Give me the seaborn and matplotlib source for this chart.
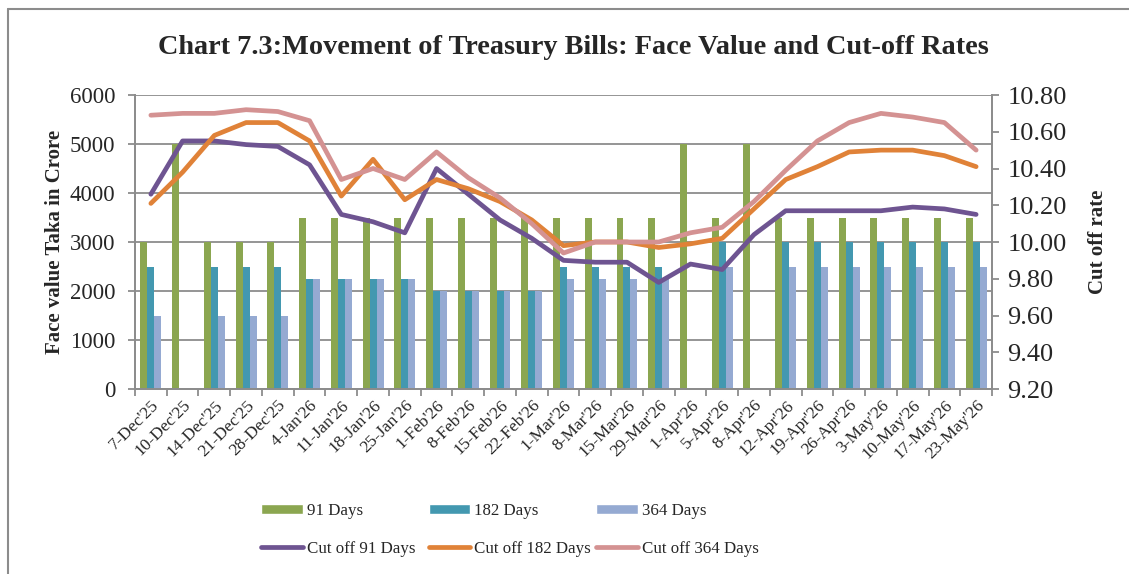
import numpy as np
import pandas as pd
import matplotlib
matplotlib.use("Agg")
import matplotlib.pyplot as plt
from matplotlib.lines import Line2D
from matplotlib.patches import Patch
import seaborn as sns

# Auction dates
dates = [
    "7-Dec'25", "10-Dec'25", "14-Dec'25", "21-Dec'25", "28-Dec'25", "4-Jan'26",
    "11-Jan'26", "18-Jan'26", "25-Jan'26", "1-Feb'26", "8-Feb'26", "15-Feb'26",
    "22-Feb'26", "1-Mar'26", "8-Mar'26", "15-Mar'26", "29-Mar'26", "1-Apr'26",
    "5-Apr'26", "8-Apr'26", "12-Apr'26", "19-Apr'26", "26-Apr'26", "3-May'26",
    "10-May'26", "17-May'26", "23-May'26",
]

# Face value (Taka in crore)
fv_91 = [3000, 5000, 3000, 3000, 3000, 3500, 3500, 3500, 3500, 3500, 3500, 3500,
         3500, 3500, 3500, 3500, 3500, 5000, 3500, 5000, 3500, 3500, 3500, 3500,
         3500, 3500, 3500]
fv_182 = [2500, 0, 2500, 2500, 2500, 2250, 2250, 2250, 2250, 2000, 2000, 2000,
          2000, 2500, 2500, 2500, 2500, 0, 3000, 0, 3000, 3000, 3000, 3000,
          3000, 3000, 3000]
fv_364 = [1500, 0, 1500, 1500, 1500, 2250, 2250, 2250, 2250, 2000, 2000, 2000,
          2000, 2250, 2250, 2250, 2250, 0, 2500, 0, 2500, 2500, 2500, 2500,
          2500, 2500, 2500]

# Cut-off rates (%)
co_91 = [10.26, 10.55, 10.55, 10.53, 10.52, 10.42, 10.15, 10.11, 10.05, 10.40,
         10.26, 10.12, 10.02, 9.90, 9.89, 9.89, 9.78, 9.88, 9.85, 10.04, 10.17,
         10.17, 10.17, 10.17, 10.19, 10.18, 10.15]
co_182 = [10.21, 10.38, 10.58, 10.65, 10.65, 10.55, 10.25, 10.45, 10.23, 10.34,
          10.29, 10.22, 10.12, 9.98, 10.00, 10.00, 9.97, 9.99, 10.02, 10.18,
          10.34, 10.41, 10.49, 10.50, 10.50, 10.47, 10.41]
co_364 = [10.69, 10.70, 10.70, 10.72, 10.71, 10.66, 10.34, 10.40, 10.34, 10.49,
          10.35, 10.24, 10.10, 9.94, 10.00, 10.00, 10.00, 10.05, 10.08, 10.22,
          10.39, 10.55, 10.65, 10.70, 10.68, 10.65, 10.50]

bar_labels = ["91 Days", "182 Days", "364 Days"]
line_labels = ["Cut off 91 Days", "Cut off 182 Days", "Cut off 364 Days"]
bar_colors = ["#8BA650", "#4398B0", "#95AAD2"]
line_colors = ["#6E5491", "#E08238", "#D49292"]

bars = pd.DataFrame({"date": dates, "91 Days": fv_91, "182 Days": fv_182,
                     "364 Days": fv_364})
bars = bars.melt(id_vars="date", var_name="tenor", value_name="value")
rates = pd.DataFrame({"date": dates, "Cut off 91 Days": co_91,
                      "Cut off 182 Days": co_182, "Cut off 364 Days": co_364})
rates = rates.melt(id_vars="date", var_name="tenor", value_name="rate")

sns.set_style("white")
plt.rcParams["font.family"] = ["Liberation Serif", "DejaVu Serif"]
grey = "#8C8C8C"

fig = plt.figure(figsize=(11.29, 5.74), dpi=100)
ax = fig.add_axes([135 / 1129, 1 - 389 / 574, 857 / 1129, 294 / 574])

sns.barplot(data=bars, x="date", y="value", hue="tenor", order=dates,
            hue_order=bar_labels, palette=bar_colors, width=0.66,
            linewidth=0, saturation=1, legend=False, ax=ax)
ax.set_ylim(0, 6000)
ax.set_yticks(range(0, 6001, 1000))
ax.set_xlim(-0.5, len(dates) - 0.5)
ax.set_axisbelow(True)
ax.yaxis.grid(True, color=grey, linewidth=1.3)
ax.set_xlabel("")
ax.set_ylabel("")

ax2 = ax.twinx()
sns.lineplot(data=rates, x="date", y="rate", hue="tenor",
             hue_order=line_labels, palette=line_colors, linewidth=3.4,
             sort=False, legend=False, ax=ax2)
for ln in ax2.lines:
    ln.set_solid_capstyle("round")
    ln.set_solid_joinstyle("round")
ax2.set_ylim(9.2, 10.8)
ax2.set_yticks(np.arange(9.2, 10.81, 0.2))
ax2.set_yticklabels([f"{v:.2f}" for v in np.arange(9.2, 10.81, 0.2)])
ax2.set_xlim(-0.5, len(dates) - 0.5)
ax2.set_ylabel("")
ax2.set_xlabel("")

for a in (ax, ax2):
    for s in a.spines.values():
        s.set_color(grey)
        s.set_linewidth(1.3)
    a.spines["top"].set_visible(False)

ax.set_xticks(range(len(dates)))
ax.set_xticklabels(dates, rotation=45, ha="right", rotation_mode="anchor",
                   fontsize=12.5)
ax.set_xticks(np.arange(-0.5, len(dates), 1), minor=True)
ax.tick_params(axis="x", which="major", length=0, pad=6)
ax.tick_params(axis="x", which="minor", length=5, color=grey, width=1.3,
               direction="out", bottom=True)
ax.tick_params(axis="y", labelsize=16.5, length=5, color=grey, width=1.3,
               direction="out", left=True, pad=9)
ax2.tick_params(axis="y", labelsize=19, length=5, color=grey, width=1.3,
                direction="out", right=True, pad=6)

fig.text(0.508, 0.918, "Chart 7.3:Movement of Treasury Bills: Face Value and Cut-off Rates",
         ha="center", va="center", fontsize=20.3, fontweight="bold")
fig.text(0.049, 0.578, "Face value Taka in Crore", rotation=90, ha="center",
         va="center", fontsize=15, fontweight="bold")
fig.text(0.9725, 0.578, "Cut off rate", rotation=90, ha="center",
         va="center", fontsize=15, fontweight="bold")

# legend: one column per tenor, bars on the first row, lines on the second
for i in range(3):
    col = [Patch(facecolor=bar_colors[i], label=bar_labels[i]),
           Line2D([], [], color=line_colors[i], linewidth=3.4,
                  solid_capstyle="round", label=line_labels[i])]
    fig.legend(handles=col, loc="center left",
               bbox_to_anchor=((261 + 167.5 * i) / 1129, 1 - 530 / 574),
               frameon=False, fontsize=12.2, handlelength=2.45,
               handleheight=0.6, handletextpad=0.25, labelspacing=1.3,
               borderpad=0, borderaxespad=0)

# outer chart frame (left and top edges)
fig.add_artist(Line2D([8 / 1129, 8 / 1129], [0, 1 - 9 / 574], color=grey,
                      linewidth=1.5, transform=fig.transFigure))
fig.add_artist(Line2D([8 / 1129, 1], [1 - 9 / 574, 1 - 9 / 574], color=grey,
                      linewidth=1.5, transform=fig.transFigure))

fig.savefig("out.png", dpi=100)
